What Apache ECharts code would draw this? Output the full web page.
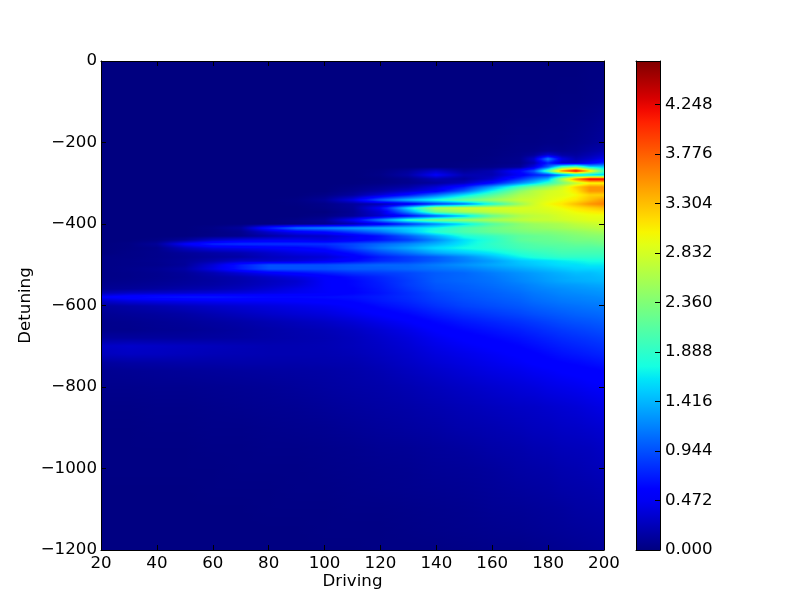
<!DOCTYPE html>
<html>
<head>
<meta charset="utf-8">
<script src="https://cdn.jsdelivr.net/npm/echarts@6/dist/echarts.min.js"></script>
<style>
html, body { margin: 0; padding: 0; background: #fff; }
#main { width: 812px; height: 612px; }
</style>
</head>
<body>
<div id="main"></div>
<script>
var driving = [20,30,40,50,60,70,80,90,100,110,120,130,140,150,160,170,175,180,185,190,195,200];
var detuning = [0,-100,-200,-220,-230,-240,-250,-260,-270,-280,-290,-300,-310,-320,-330,-340,-350,-360,-370,-380,-390,-400,-410,-420,-430,-440,-450,-460,-470,-480,-490,-500,-510,-520,-530,-540,-550,-560,-570,-580,-590,-600,-620,-640,-660,-680,-700,-720,-740,-760,-800,-850,-900,-950,-1000,-1050,-1100,-1150,-1200];
var intensity = [
[0,0,0,0,0,0,0,0,0,0,0,0,0,0,0,0,0,0,0,0,.01,.01],
[0,0,0,0,0,0,0,0,0,0,0,0,0,0,0,0,0,0,.01,.01,.02,.03],
[0,0,0,0,0,0,0,0,0,0,0,0,0,0,0,.02,.02,.03,.03,.05,.08,.12],
[0,0,0,0,0,0,0,0,0,0,0,0,0,0,.01,.03,.04,.08,.06,.08,.14,.2],
[0,0,0,0,0,0,0,0,0,0,0,0,0,0,.01,.04,.1,.35,.15,.12,.2,.3],
[0,0,0,0,0,0,0,0,0,0,0,0,0,0,.02,.06,.3,1.2,.4,.2,.3,.45],
[0,0,0,0,0,0,0,0,0,0,0,0,0,.01,.02,.05,.2,.7,.3,.3,.5,.75],
[0,0,0,0,0,0,0,0,0,0,0,0,0,.02,.04,.1,.4,1.0,2.0,2.3,1.6,1.5],
[0,0,0,0,0,0,0,0,0,0,.02,.1,.3,.1,.2,.6,1.0,2.1,3.6,4.3,3.2,2.0],
[0,0,0,0,0,0,0,0,0,0,.03,.15,.5,.2,.2,.5,.7,.8,1.2,1.5,1.5,1.5],
[0,0,0,0,0,0,0,0,0,0,.01,.06,.2,.12,.3,.8,1.1,1.4,2.6,3.6,4.3,4.3],
[0,0,0,0,0,0,0,0,0,0,.02,.06,.12,.25,.6,1.2,1.5,1.9,2.3,2.7,3.0,3.0],
[0,0,0,0,0,0,0,0,0,.03,.08,.15,.35,.7,1.3,2.0,2.3,2.5,2.8,3.2,3.5,3.5],
[0,0,0,0,0,0,0,0,0,.06,.15,.3,.5,1.0,1.7,2.4,2.65,2.8,2.9,3.1,3.5,3.5],
[0,0,0,0,0,0,0,0,.03,.12,.35,.65,1.1,1.6,2.1,2.6,2.7,2.85,2.9,3.0,3.2,3.2],
[0,0,0,0,0,0,0,.02,.1,.4,1.0,1.45,1.8,2.2,2.5,2.75,2.8,2.9,3.0,3.1,3.3,3.5],
[0,0,0,0,0,0,0,.01,.04,.12,.2,.4,.8,1.1,1.8,2.5,2.8,3.0,3.1,3.3,3.5,3.6],
[0,0,0,0,0,0,0,0,.03,.1,.5,1.6,2.6,2.8,2.85,2.85,2.85,2.9,3.0,3.1,3.2,3.3],
[0,0,0,0,0,0,0,0,0,.08,.35,1.2,2.2,2.55,2.7,2.8,2.8,2.85,2.9,3.0,3.05,3.1],
[0,0,0,0,0,0,0,0,.03,.1,.3,.6,1.0,1.5,2.2,2.6,2.7,2.75,2.85,2.9,2.95,2.95],
[0,0,0,0,0,0,0,.03,.1,.5,1.2,1.9,2.3,2.5,2.6,2.7,2.75,2.75,2.8,2.85,2.9,2.9],
[0,0,0,0,0,0,0,.02,.06,.2,.45,.8,1.2,1.6,2.1,2.4,2.5,2.55,2.6,2.7,2.75,2.8],
[0,0,0,0,.03,.12,.7,1.1,1.2,1.3,1.4,1.55,1.75,2.05,2.25,2.4,2.45,2.5,2.55,2.6,2.65,2.7],
[0,0,0,0,.02,.06,.3,.5,.6,.85,1.1,1.45,1.85,2.05,2.2,2.3,2.35,2.35,2.4,2.45,2.5,2.55],
[0,0,0,0,.03,.05,.15,.25,.3,.45,.65,1.0,1.4,1.8,1.95,2.15,2.2,2.25,2.3,2.35,2.4,2.4],
[0,0,.02,.1,.3,.4,.45,.45,.4,.5,.65,.85,1.2,1.6,1.85,2.15,2.2,2.2,2.25,2.3,2.3,2.35],
[0,.02,.1,.5,.75,.8,.8,.8,.8,.9,1.05,1.2,1.4,1.65,1.9,2.05,2.1,2.15,2.15,2.2,2.2,2.25],
[0,.02,.05,.25,.4,.45,.5,.55,.65,.9,1.15,1.35,1.6,1.75,1.85,2.0,2.05,2.05,2.1,2.1,2.1,2.1],
[0,.03,.05,.1,.15,.2,.3,.4,.45,.65,.9,1.1,1.35,1.5,1.65,1.85,1.9,1.95,2.0,2.0,2.0,2.0],
[.03,.03,.05,.08,.12,.15,.25,.3,.35,.5,.7,.85,1.0,1.2,1.45,1.7,1.8,1.85,1.9,1.9,1.9,1.9],
[.03,.04,.06,.1,.18,.3,.3,.35,.45,.6,.75,.85,1.0,1.15,1.3,1.5,1.55,1.6,1.65,1.7,1.75,1.75],
[.03,.04,.05,.1,.35,.7,.95,.95,.95,1.0,1.05,1.05,1.15,1.25,1.35,1.45,1.5,1.55,1.6,1.6,1.65,1.65],
[.03,.05,.08,.15,.4,.7,.95,.95,.95,1.0,1.0,1.05,1.1,1.15,1.25,1.35,1.4,1.45,1.5,1.55,1.55,1.55],
[.03,.04,.06,.1,.2,.35,.5,.6,.7,.8,.85,.9,1.0,1.05,1.15,1.25,1.3,1.35,1.4,1.45,1.45,1.5],
[.03,.04,.06,.09,.15,.2,.3,.4,.52,.65,.75,.88,1.0,1.05,1.12,1.22,1.27,1.32,1.36,1.4,1.42,1.45],
[.04,.05,.07,.1,.13,.18,.25,.32,.5,.6,.72,.85,1.0,1.05,1.1,1.2,1.25,1.3,1.35,1.38,1.4,1.42],
[.06,.07,.09,.12,.15,.2,.27,.35,.5,.6,.7,.85,.97,1.02,1.08,1.15,1.2,1.25,1.28,1.3,1.33,1.35],
[.08,.1,.13,.17,.2,.25,.33,.42,.5,.58,.68,.82,.95,1.0,1.05,1.12,1.17,1.2,1.23,1.26,1.28,1.3],
[.22,.28,.3,.32,.35,.38,.42,.46,.5,.58,.66,.78,.9,.97,1.02,1.08,1.13,1.16,1.2,1.22,1.24,1.26],
[.5,.6,.65,.68,.68,.65,.62,.62,.63,.65,.7,.78,.88,.95,1.0,1.05,1.1,1.13,1.16,1.18,1.2,1.22],
[.3,.38,.42,.45,.48,.5,.5,.52,.55,.6,.68,.75,.85,.92,.97,1.02,1.07,1.1,1.13,1.15,1.17,1.18],
[.12,.16,.2,.25,.3,.34,.38,.42,.46,.52,.62,.7,.8,.88,.93,.98,1.02,1.05,1.08,1.1,1.12,1.14],
[.08,.1,.12,.15,.2,.25,.3,.34,.38,.45,.52,.6,.7,.78,.84,.9,.94,.97,1.0,1.03,1.05,1.07],
[.05,.06,.08,.1,.13,.16,.2,.24,.28,.34,.42,.5,.6,.68,.74,.8,.84,.88,.92,.95,.97,1.0],
[.05,.05,.07,.08,.1,.13,.16,.19,.22,.27,.34,.42,.52,.6,.66,.72,.76,.8,.84,.87,.9,.93],
[.12,.12,.12,.12,.13,.14,.16,.18,.2,.24,.3,.37,.46,.53,.59,.65,.69,.73,.77,.8,.83,.86],
[.28,.3,.28,.26,.24,.22,.2,.2,.21,.24,.28,.34,.42,.48,.53,.59,.63,.67,.71,.74,.77,.8],
[.25,.27,.26,.24,.22,.21,.2,.2,.2,.22,.26,.31,.38,.43,.48,.53,.57,.61,.65,.68,.71,.74],
[.12,.14,.15,.16,.16,.17,.17,.17,.18,.19,.23,.28,.34,.39,.44,.49,.52,.55,.58,.6,.63,.66],
[.07,.08,.09,.1,.11,.12,.13,.14,.15,.17,.2,.25,.3,.35,.4,.44,.47,.49,.52,.54,.56,.58],
[.05,.05,.06,.06,.07,.08,.09,.11,.13,.15,.17,.2,.24,.28,.32,.36,.38,.41,.43,.45,.48,.5],
[.03,.03,.04,.04,.05,.06,.07,.08,.1,.12,.14,.16,.19,.22,.25,.28,.29,.31,.33,.35,.38,.41],
[.02,.02,.03,.03,.04,.04,.05,.06,.07,.09,.11,.13,.15,.18,.2,.23,.25,.26,.28,.29,.31,.33],
[.02,.02,.02,.02,.03,.03,.04,.04,.05,.06,.08,.09,.11,.13,.16,.18,.2,.21,.23,.24,.25,.28],
[.02,.02,.02,.02,.02,.03,.03,.03,.04,.05,.06,.07,.09,.1,.12,.15,.16,.17,.19,.2,.22,.24],
[.01,.01,.01,.01,.02,.02,.02,.03,.03,.04,.05,.06,.07,.08,.1,.12,.13,.14,.16,.17,.18,.2],
[.01,.01,.01,.01,.01,.01,.02,.02,.02,.03,.03,.04,.05,.06,.08,.09,.1,.11,.12,.14,.15,.16],
[.01,.01,.01,.01,.01,.01,.01,.01,.02,.02,.02,.03,.04,.05,.06,.07,.08,.09,.1,.11,.12,.13],
[.01,.01,.01,.01,.01,.01,.01,.01,.01,.01,.02,.02,.02,.03,.04,.04,.05,.06,.07,.08,.09,.1]
];
var colorMax = 4.66;
var colorStep = 0.472;

// same breakpoints as the jet map
function lerpTable(t, f) {
	for (var i = 1; i < t.length; i++) {
		if (f <= t[i][0]) {
			return t[i-1][1] + (t[i][1] - t[i-1][1]) * (f - t[i-1][0]) / (t[i][0] - t[i-1][0]);
		}
	}
	return t[t.length-1][1];
}
var jetR = [[0,0],[.35,0],[.66,1],[.89,1],[1,.5]];
var jetG = [[0,0],[.125,0],[.375,1],[.64,1],[.91,0],[1,0]];
var jetB = [[0,.5],[.11,1],[.34,1],[.65,0],[1,0]];
function jet(v) {
	var f = Math.min(1, Math.max(0, v / colorMax));
	return 'rgb(' + Math.round(255*lerpTable(jetR,f)) + ',' + Math.round(255*lerpTable(jetG,f)) + ',' + Math.round(255*lerpTable(jetB,f)) + ')';
}
function rampStops(v0, v1, n) {
	var stops = [];
	for (var i = 0; i <= n; i++) {
		stops.push({ offset: i / n, color: jet(v0 + (v1 - v0) * i / n) });
	}
	return stops;
}

// one cell between each pair of rows and columns, corner values kept as read
var cells = [];
for (var r = 0; r < detuning.length - 1; r++) {
	for (var c = 0; c < driving.length - 1; c++) {
		cells.push([driving[c], driving[c+1], detuning[r], detuning[r+1],
			intensity[r][c], intensity[r][c+1], intensity[r+1][c], intensity[r+1][c+1]]);
	}
}

// shaded like pcolor gouraud: one pixel strips blending the corner values
function renderCell(params, api) {
	var a = api.coord([api.value(0), api.value(2)]);
	var b = api.coord([api.value(1), api.value(3)]);
	var x0 = Math.round(a[0]), x1 = Math.round(b[0]);
	var y0 = Math.round(a[1]), y1 = Math.round(b[1]);
	var tl = api.value(4), tr = api.value(5), bl = api.value(6), br = api.value(7);
	var strips = [];
	for (var py = y0; py < y1; py++) {
		var t = (py + 0.5 - y0) / (y1 - y0);
		strips.push({
			type: 'rect',
			shape: { x: x0, y: py, width: x1 - x0, height: 1 },
			style: {
				fill: { type: 'linear', x: 0, y: 0, x2: 1, y2: 0,
					colorStops: rampStops(tl + (bl - tl) * t, tr + (br - tr) * t, 4) }
			}
		});
	}
	return { type: 'group', children: strips };
}
function renderBar(params, api) {
	var a = api.coord([0, api.value(1)]);
	var b = api.coord([1, api.value(0)]);
	return {
		type: 'rect',
		shape: { x: a[0], y: a[1], width: b[0] - a[0], height: b[1] - a[1] },
		style: {
			fill: { type: 'linear', x: 0, y: 1, x2: 0, y2: 0, colorStops: rampStops(api.value(0), api.value(1), 40) }
		}
	};
}

var font = { fontFamily: 'DejaVu Sans', fontSize: 16.67, color: '#000' };
var line = { show: true, onZero: false, lineStyle: { color: '#000', width: 1 } };
var tick = { show: true, inside: true, length: 5, lineStyle: { color: '#000', width: 1 } };
var noLabel = { show: false };

var chart = echarts.init(document.getElementById('main'), null, { renderer: 'canvas' });
chart.setOption({
	animation: false,
	backgroundColor: '#fff',
	textStyle: { fontFamily: 'DejaVu Sans' },
	grid: [
		{ left: 101, top: 61, width: 503, height: 489, containLabel: false },
		{ left: 636, top: 61, width: 24, height: 489, containLabel: false }
	],
	xAxis: [
		{ type: 'value', gridIndex: 0, min: 20, max: 200, interval: 20, position: 'bottom', z: 5,
			name: 'Driving', nameLocation: 'middle', nameGap: 23, nameMoveOverlap: false, nameTextStyle: font,
			axisLine: line, axisTick: tick, axisLabel: Object.assign({ margin: 5 }, font), splitLine: { show: false } },
		{ type: 'value', gridIndex: 0, min: 20, max: 200, interval: 20, position: 'top', z: 5,
			axisLine: line, axisTick: tick, axisLabel: noLabel, splitLine: { show: false } },
		{ type: 'value', gridIndex: 1, min: 0, max: 1, position: 'bottom', z: 5,
			axisLine: line, axisTick: { show: false }, axisLabel: noLabel, splitLine: { show: false } },
		{ type: 'value', gridIndex: 1, min: 0, max: 1, position: 'top', z: 5,
			axisLine: line, axisTick: { show: false }, axisLabel: noLabel, splitLine: { show: false } }
	],
	yAxis: [
		{ type: 'value', gridIndex: 0, min: -1200, max: 0, interval: 200, position: 'left', z: 5,
			name: 'Detuning', nameLocation: 'middle', nameGap: 67, nameMoveOverlap: false, nameTextStyle: font,
			axisLine: line, axisTick: tick, splitLine: { show: false },
			axisLabel: Object.assign({ margin: 4, formatter: function (v) { return String(v).replace('-', '\u2212'); } }, font) },
		{ type: 'value', gridIndex: 0, min: -1200, max: 0, interval: 200, position: 'right', z: 5,
			axisLine: line, axisTick: tick, axisLabel: noLabel, splitLine: { show: false } },
		{ type: 'value', gridIndex: 1, min: 0, max: colorMax, interval: colorStep, position: 'right', z: 5,
			axisLine: line, axisTick: tick, splitLine: { show: false },
			axisLabel: Object.assign({ margin: 5, showMaxLabel: false, formatter: function (v) { return v.toFixed(3); } }, font) },
		{ type: 'value', gridIndex: 1, min: 0, max: colorMax, position: 'left', z: 5,
			axisLine: line, axisTick: { show: false }, axisLabel: noLabel, splitLine: { show: false } }
	],
	series: [
		{ type: 'custom', xAxisIndex: 0, yAxisIndex: 0, renderItem: renderCell, data: cells,
			encode: { x: [0, 1], y: [2, 3] }, clip: true, silent: true, progressive: 0 },
		{ type: 'custom', xAxisIndex: 2, yAxisIndex: 2, renderItem: renderBar, data: [[0, colorMax]],
			encode: { y: [0, 1] }, clip: true, silent: true }
	]
});
</script>
</body>
</html>
